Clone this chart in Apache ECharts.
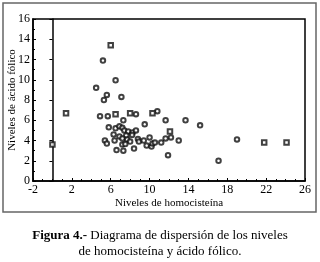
<!DOCTYPE html>
<html>
<head>
<meta charset="utf-8">
<script src="https://cdn.jsdelivr.net/npm/echarts@6/dist/echarts.min.js"></script>
<style>
    html, body { margin: 0; padding: 0; background: #fff; }
    #chart { width: 320px; height: 262px; }
</style>
</head>
<body>
<div id="chart"></div>
<script>
    // puntos: [homocisteina, acido folico]
    var circlePoints = [
        [5.2, 11.9], [6.5, 9.95], [4.5, 9.2], [5.6, 8.5], [5.3, 8.0], [7.1, 8.3],
        [4.9, 6.4], [5.7, 6.4], [8.6, 6.6], [7.3, 6.0], [10.8, 6.9], [11.65, 6.0],
        [13.7, 6.0], [15.2, 5.5], [9.5, 5.6],
        [5.8, 5.3], [6.5, 5.2], [6.9, 5.4], [7.2, 5.25], [7.4, 5.0], [7.8, 4.9],
        [8.25, 4.8], [8.6, 5.0], [6.3, 4.6], [6.9, 4.4], [7.6, 4.5], [8.2, 4.55],
        [7.2, 4.2], [7.7, 4.1], [5.4, 4.0], [6.4, 4.0], [8.8, 4.15], [5.6, 3.7],
        [8.9, 3.9], [8.0, 3.9], [9.4, 4.0], [10.0, 4.3], [7.2, 3.6], [7.5, 3.65],
        [9.7, 3.5], [10.2, 3.4], [10.3, 3.7], [10.55, 3.8], [11.2, 3.8], [11.65, 4.2],
        [12.2, 4.3], [13.0, 4.0], [6.6, 3.05], [7.3, 3.0], [8.4, 3.2], [11.9, 2.55],
        [17.1, 2.0], [19.0, 4.1]
    ];
    var squarePoints = [
        [6.0, 13.4], [0, 3.6], [1.4, 6.7], [6.5, 6.6], [8.0, 6.7], [10.3, 6.7],
        [12.1, 4.9], [21.8, 3.8], [24.1, 3.8]
    ];
    var xRange = [-2, 26, 4];
    var yRange = [0, 16, 2];
    var xTitle = 'Niveles de homocisteína';
    var yTitle = 'Niveles de ácido fólico';

    var serif = 'Liberation Serif';
    const myChart = echarts.init(document.getElementById('chart'));
    const option = {
        backgroundColor: '#fff',
        animation: false,
        textStyle: { fontFamily: serif },
        grid: {
            left: 33, right: 15, top: 19, bottom: 81,
            outerBoundsMode: 'none', containLabel: false,
            show: true, borderColor: '#000', borderWidth: 1.5, backgroundColor: '#fff'
        },
        xAxis: {
            type: 'value', min: xRange[0], max: xRange[1], interval: xRange[2],
            name: xTitle, nameLocation: 'middle', nameGap: 16.5, nameMoveOverlap: false,
            nameTextStyle: { fontFamily: serif, fontSize: 11, color: '#000', verticalAlign: 'top' },
            axisLine: { show: true, onZero: false, lineStyle: { color: '#000', width: 1.5 } },
            axisTick: { inside: true, length: 3, lineStyle: { color: '#000' } },
            minorTick: { show: true, splitNumber: 4, length: 2, lineStyle: { color: '#000' } },
            axisLabel: { fontFamily: serif, fontSize: 12, color: '#000', margin: 3 },
            splitLine: { show: false }
        },
        yAxis: [{
            type: 'value', min: yRange[0], max: yRange[1], interval: yRange[2],
            name: yTitle, nameLocation: 'middle', nameGap: 15, nameMoveOverlap: false,
            nameTextStyle: { fontFamily: serif, fontSize: 11, color: '#000' },
            axisLine: { show: true, onZero: false, lineStyle: { color: '#000', width: 1.5 } },
            axisTick: { inside: true, length: 3, lineStyle: { color: '#000' } },
            minorTick: { show: true, splitNumber: 2, length: 2, lineStyle: { color: '#000' } },
            axisLabel: { fontFamily: serif, fontSize: 12, color: '#000', margin: 3 },
            splitLine: { show: false }
        }, {
            type: 'value', min: yRange[0], max: yRange[1], interval: yRange[2],
            position: 'right',
            axisLine: { show: true, lineStyle: { color: '#000', width: 1.5 } },
            axisTick: { inside: true, length: 3, lineStyle: { color: '#000' } },
            axisLabel: { show: false },
            splitLine: { show: false }
        }],
        graphic: [{
            type: 'rect', silent: true, z: -1,
            shape: { x: 3, y: 3, width: 313, height: 209 },
            style: { fill: 'none', stroke: '#666', lineWidth: 1.5 }
        }, {
            type: 'text', silent: true,
            x: 160, y: 228,
            style: {
                text: '{b|Figura 4.-} Diagrama de dispersión de los niveles\nde homocisteína y ácido fólico.',
                align: 'center', verticalAlign: 'top',
                font: '13px "Liberation Serif"', fill: '#000', lineHeight: 16,
                rich: {
                    b: { font: 'bold 13px "Liberation Serif"', fill: '#000', lineHeight: 16 }
                }
            }
        }],
        series: [{
            type: 'scatter',
            symbol: 'emptyCircle',
            symbolSize: 4.5,
            itemStyle: { color: '#111', borderWidth: 1.6 },
            data: circlePoints
        }, {
            type: 'scatter',
            symbol: 'emptyRect',
            symbolSize: 4.5,
            itemStyle: { color: '#111', borderWidth: 1.6 },
            data: squarePoints
        }]
    };
    myChart.setOption(option);
</script>
</body>
</html>
